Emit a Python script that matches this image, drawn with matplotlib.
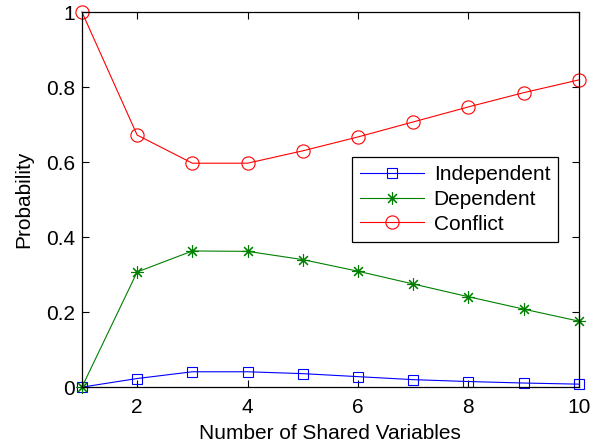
import matplotlib.pyplot as plt
from matplotlib.ticker import FuncFormatter

plt.rcParams['font.family'] = ['Liberation Sans', 'DejaVu Sans']

# data
n_shared = [1, 2, 3, 4, 5, 6, 7, 8, 9, 10]
independent = [0.0, 0.023, 0.041, 0.041, 0.036, 0.028, 0.020, 0.015, 0.011, 0.008]
dependent = [0.0, 0.307, 0.363, 0.362, 0.340, 0.309, 0.275, 0.241, 0.208, 0.176]
conflict = [1.0, 0.672, 0.597, 0.597, 0.630, 0.667, 0.707, 0.747, 0.785, 0.819]
labels = ['Independent', 'Dependent', 'Conflict']

fig = plt.figure(figsize=(5.98, 4.45), dpi=100)
ax = fig.add_axes([0.137, 0.130, 0.831, 0.843])

ax.plot(n_shared, independent, color='blue', marker='s', ms=7.5, mfc='none', lw=0.8, mew=0.8, label=labels[0], clip_on=False)
ax.plot(n_shared, dependent, color='green', marker=(8, 2, 0), ms=9, mfc='none', lw=0.8, mew=0.8, label=labels[1], clip_on=False)
ax.plot(n_shared, conflict, color='red', marker='o', ms=9.5, mfc='none', lw=0.8, mew=0.8, label=labels[2], clip_on=False)

ax.set_xlim(1, 10)
ax.set_ylim(0, 1)
ax.set_xticks([2, 4, 6, 8, 10])
ax.set_yticks([0, 0.2, 0.4, 0.6, 0.8, 1])
ax.yaxis.set_major_formatter(FuncFormatter(lambda v, p: '%g' % v))
ax.tick_params(direction='in', top=True, right=True, labelsize=15, length=5, width=0.8, pad=5)
ax.tick_params(axis='x', pad=8)
for s in ax.spines.values():
    s.set_linewidth(0.9)

ax.set_xlabel('Number of Shared Variables', fontsize=15, labelpad=5)
ax.set_ylabel('Probability', fontsize=15, labelpad=9)

leg = ax.legend(loc='upper left', bbox_to_anchor=(0.543, 0.613), borderaxespad=0,
                fontsize=15, fancybox=False, framealpha=1, edgecolor='black',
                handlelength=3.1, handletextpad=0.45, labelspacing=0.28, borderpad=0.38)
leg.get_frame().set_linewidth(0.9)

fig.savefig('out.png', dpi=100)
